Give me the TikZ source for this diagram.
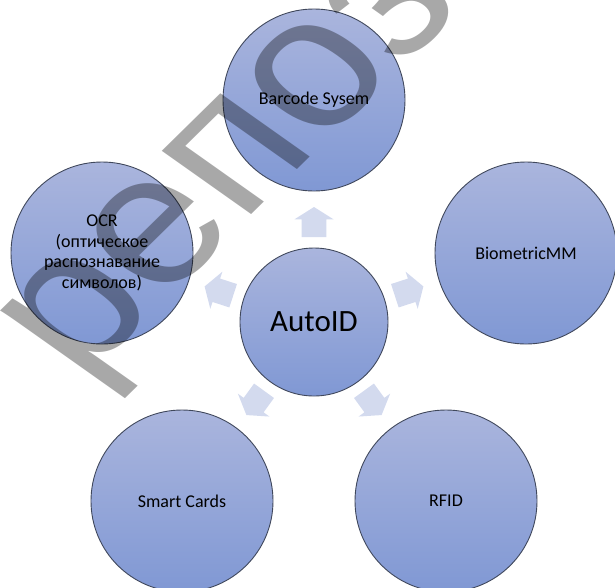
\documentclass[tikz,border=0pt]{standalone}
\usepackage{fontspec}
\setmainfont{Carlito}
\newfontfamily\wmfont{Liberation Sans}
\definecolor{bubbletop}{RGB}{170,181,221}
\definecolor{bubblebot}{RGB}{128,152,212}
\definecolor{bubbleedge}{RGB}{64,72,92}
\definecolor{arrowblue}{RGB}{211,218,238}
\begin{document}
\begin{tikzpicture}[x=1pt,y=-1pt,
  bubble/.style={circle, draw=bubbleedge, line width=0.9pt,
    top color=bubbletop, bottom color=bubblebot,
    inner sep=0pt, minimum size=182pt, align=center,
    font=\fontsize{18}{20.5}\selectfont},
  hub/.style={bubble, minimum size=148pt, font=\fontsize{31}{36}\selectfont},
  blockarrow/.style={fill=arrowblue},
  watermark/.style={font=\wmfont\fontsize{204}{204}\selectfont,
    text=black, text opacity=0.34, inner sep=0pt}]
\useasboundingbox (0,0) rectangle (615,587);
\begin{scope}
\clip (0,0) rectangle (615,587);

% hub and the five surrounding methods
\node[hub] (auto) at (314,322) {AutoID};
\node[bubble] (barcode) at (314,100) {Barcode Sysem};
\node[bubble] (ocr) at (102,253) {OCR\\(оптическое\\распознавание\\символов)};
\node[bubble] (bio) at (526,253) {BiometricMM};
\node[bubble] (smart) at (182,501) {Smart Cards};
\node[bubble] (rfid) at (446,501) {RFID};

% block arrows pointing from the hub to each method
\foreach \ang in {90,162,18,234,306}{
  \begin{scope}[shift={(auto.center)}, rotate=\ang]
    \fill[blockarrow] (85,-12.3) -- (102.7,-12.3) -- (102.7,-19.5) -- (115,0)
      -- (102.7,19.5) -- (102.7,12.3) -- (85,12.3) -- cycle;
  \end{scope}
}

% diagonal repository watermark
\node[watermark, rotate=44.5, xslant=-0.18, anchor=base west] (wm) at (80,384) {репоз};
\end{scope}
\end{tikzpicture}
\end{document}
